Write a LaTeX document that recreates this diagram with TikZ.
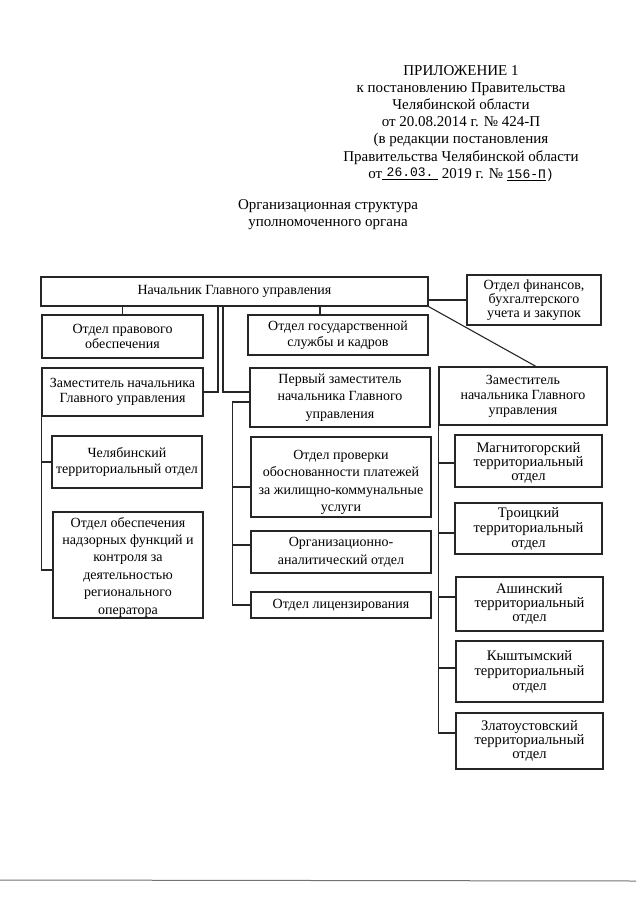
\documentclass[tikz,border=0pt]{standalone}
\usepackage{fontspec}
\setmainfont{Liberation Serif}
\newfontfamily\monof{Liberation Mono}
\begin{document}
\begin{tikzpicture}[x=1pt,y=-1pt,
  box/.style={draw=black!85, line width=1.1pt, align=center, inner sep=0pt, font=\fontsize{14}{17}\selectfont},
  ls/.style={font=\fontsize{14}{#1}\selectfont},
  lsb/.style={font=\fontsize{14.6}{#1}\selectfont},
  conn/.style={draw=black!85, line width=1.1pt},
  plain/.style={align=center, inner sep=0pt, font=\fontsize{15}{17.2}\selectfont}]
\path[use as bounding box] (0,0) rectangle (640,905);

% header
\node[plain] (hdr) at (461,123) {ПРИЛОЖЕНИЕ 1\\ к постановлению Правительства\\ Челябинской области\\ от 20.08.2014 г. № 424-П\\ (в редакции постановления\\ Правительства Челябинской области\\ от\underline{\makebox[56pt]{\monof\fontsize{13}{13}\selectfont\raisebox{2pt}{26.03.}}} 2019 г. № \underline{\monof\fontsize{13}{13}\selectfont 156-П}{\monof\fontsize{13}{13}\selectfont )}};
\node[plain] (title) at (328,215) {Организационная структура\\ уполномоченного органа};

% boxes
\node[box, minimum width=387pt, minimum height=29pt] (top) at (234.5,291.5) {Начальник Главного управления};
\node[box, ls=14, minimum width=134pt, minimum height=50pt] (fin) at (534,300) {Отдел финансов,\\ бухгалтерского\\ учета и закупок};
\node[box, ls=15, minimum width=161pt, minimum height=43pt] (prav) at (122.5,336.5) {Отдел правового\\ обеспечения};
\node[box, ls=16, minimum width=180pt, minimum height=40pt] (gos) at (338,335) {Отдел государственной\\ службы и кадров};
\node[box, ls=15.7, minimum width=161pt, minimum height=48pt] (dep1) at (122.5,392) {Заместитель начальника\\ Главного управления};
\node[box, ls=15.7, minimum width=150pt, minimum height=52pt] (chel) at (127,462) {Челябинский\\ территориальный отдел};
\node[box, ls=17.4, minimum width=150pt, minimum height=106pt] (nadz) at (128,565) {\rule{0pt}{14pt}Отдел обеспечения\\ надзорных функций и\\ контроля за\\ деятельностью\\ регионального\\ оператора};
\node[box, ls=17.5, minimum width=180pt, minimum height=59pt] (first) at (340,397.5) {Первый заместитель\\ начальника Главного\\ управления};
\node[box, ls=17.5, minimum width=180pt, minimum height=80pt] (prov) at (341,477) {\rule{0pt}{20pt}Отдел проверки\\ обоснованности платежей\\ за жилищно-коммунальные\\ услуги};
\node[box, ls=18.3, minimum width=180pt, minimum height=42pt] (org) at (341,552) {Организационно-\\ аналитический отдел};
\node[box, minimum width=180pt, minimum height=26pt] (lic) at (341,605) {Отдел лицензирования};
\node[box, ls=15, minimum width=168pt, minimum height=58pt] (dep2) at (523,396) {Заместитель\\ начальника Главного\\ управления};
\node[box, lsb=13.6, minimum width=147pt, minimum height=52pt] (mag) at (528.5,461) {\rule{0pt}{14pt}Магнитогорский\\ территориальный\\ отдел};
\node[box, lsb=15, minimum width=147pt, minimum height=51pt] (tro) at (528.5,528.5) {Троицкий\\ территориальный\\ отдел};
\node[box, lsb=13.6, minimum width=147pt, minimum height=54pt] (ash) at (529.5,604) {Ашинский\\ территориальный\\ отдел};
\node[box, lsb=15, minimum width=147pt, minimum height=61pt] (kysh) at (529.5,671.5) {Кыштымский\\ территориальный\\ отдел};
\node[box, lsb=13.6, minimum width=147pt, minimum height=56pt] (zlat) at (529.5,741) {Златоустовский\\ территориальный\\ отдел};

% connectors from head
\draw[conn] (prav.north |- top.south) -- (prav.north);
\draw[conn] ([xshift=-18pt]gos.north |- top.south) -- ([xshift=-18pt]gos.north);
\draw[conn] (fin.west -| top.east) -- (fin.west);
\draw[conn] (top.south east) -- ([xshift=13pt]dep2.north);
\draw[conn] ([xshift=-16.5pt]top.south) |- (dep1.east);
\draw[conn] ([xshift=-11.5pt]top.south) |- ([yshift=5.5pt]first.west);

% left deputy
\draw[conn] (dep1.south west) |- (chel.west);
\draw[conn] (dep1.south west) |- ([yshift=-5pt]nadz.west);

% first deputy
\coordinate (fb) at ([xshift=-17pt,yshift=-4.5pt]first.west);
\draw[conn] ([yshift=-4.5pt]first.west) -- (fb) |- (lic.west);
\draw[conn] (fb) |- ([yshift=-10pt]prov.west);
\draw[conn] (fb) |- ([yshift=7pt]org.west);

% right deputy
\draw[conn] (dep2.south west) |- ([yshift=-2pt]mag.west);
\draw[conn] (dep2.south west) |- ([yshift=-4.5pt]tro.west);
\draw[conn] (dep2.south west) |- ([yshift=7pt]ash.west);
\draw[conn] (dep2.south west) |- ([yshift=3.5pt]kysh.west);
\draw[conn] (dep2.south west) |- ([yshift=8pt]zlat.west);

% scan edge line
\coordinate (sl) at (0,880);
\coordinate (sr) at (636,881);
\draw[black!55, line width=1pt] (sl) -- (sr);
\end{tikzpicture}
\end{document}
